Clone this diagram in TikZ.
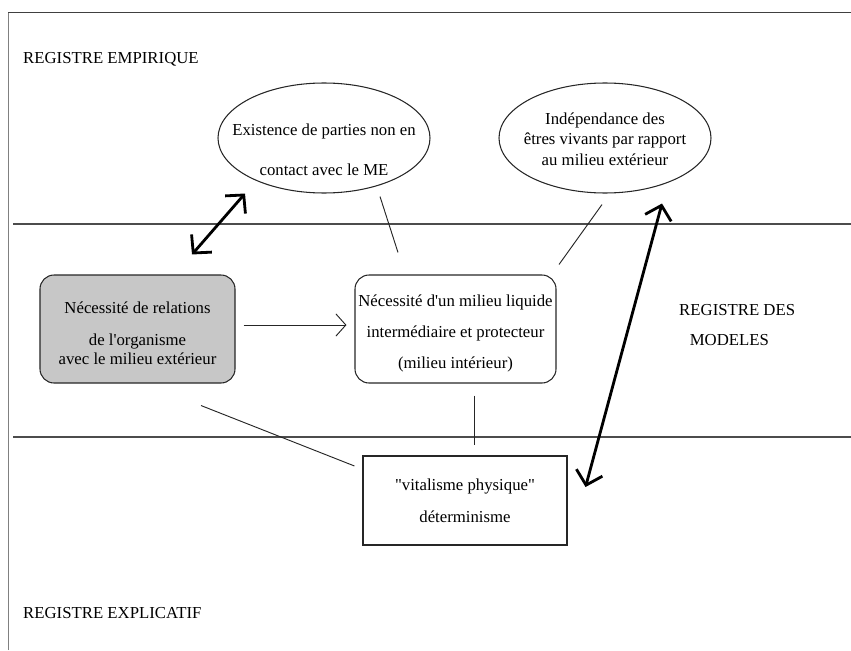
\documentclass[tikz,border=0pt]{standalone}
\usepackage{fontspec}
\setmainfont{Liberation Serif}[Ligatures=TeXOff]
\usetikzlibrary{arrows.meta,shapes.geometric}

\begin{document}
\begin{tikzpicture}[x=0.03cm, y=-0.03cm,
    every node/.style={font=\fontsize{14.3}{17.5}\selectfont, inner sep=0pt},
    bulle/.style={ellipse, draw=black!85, line width=0.9pt, minimum width=6.36cm, minimum height=3.3cm},
    boite/.style={rectangle, draw=black!85, line width=0.9pt, align=center},
    lien/.style={black!85, line width=0.8pt},
    fleche/.style={-{Straight Barb[length=8.5pt,width=19pt]}, black!85, line width=0.8pt},
    grandefleche/.style={{Straight Barb[length=11pt,width=23pt]}-{Straight Barb[length=11pt,width=23pt]}, line width=2.4pt}]

    \useasboundingbox (0,0) rectangle (851,650);

    % Cadre et registres
    \draw[black!50, line width=0.6pt] (8,650) -- (8,12);
    \draw[black!75, line width=0.8pt] (8,12) -- (851,12);
    \draw[black!70, line width=1pt] (13,224) -- (851,224);
    \draw[black!70, line width=1pt] (13,437) -- (851,437);

    \node[anchor=base west] (empirique) at (23,64) {REGISTRE EMPIRIQUE};
    \node[anchor=base west] (explicatif) at (23,618) {REGISTRE EXPLICATIF};
    \node[anchor=north west, align=left] (modeles) at (679,304) {REGISTRE DES\\[8pt]\hspace{9pt}MODELES};

    % Registre empirique
    \node[bulle, label={[align=center, yshift=-10pt]center:Existence de parties non en\\[16.5pt]contact avec le ME}] (existence) at (324,138) {};
    \node[bulle, label={[align=center, yshift=-1pt]center:Ind\'ependance des\\\^etres vivants par rapport\\ au milieu ext\'erieur}] (independance) at (605,138) {};

    % Registre des modeles
    \node[boite, fill=black!22, rounded corners=12pt, minimum width=5.85cm, minimum height=3.24cm] (relations) at (137.5,329)
        {\rule{0pt}{17pt}N\'ecessit\'e de relations\\[9.5pt]de l'organisme\\[-1.5pt]avec le milieu ext\'erieur};
    \node[boite, rounded corners=12pt, minimum width=6.03cm, minimum height=3.24cm] (milieu) at (455.5,329)
        {\rule{0pt}{17pt}N\'ecessit\'e d'un milieu liquide\\[9pt]interm\'ediaire et protecteur\\[9pt](milieu int\'erieur)};

    % Registre explicatif
    \node[boite, minimum width=6.12cm, minimum height=2.67cm] (determinisme) at (465,500.5)
        {"vitalisme physique"\\[9.5pt]d\'eterminisme};

    % Liens
    \draw[fleche] ([shift={(8,-4)}]relations.east) -- ([shift={(-8,-4)}]milieu.west);
    \draw[lien] ([shift={(56,3)}]existence.south) -- ([shift={(-57.5,-22)}]milieu.north);
    \draw[lien] ([shift={(-3,11)}]independance.south) -- ([shift={(2.5,-10)}]milieu.north east);
    \draw[lien] ([shift={(18.5,12)}]milieu.south) -- ([shift={(9,-10)}]determinisme.north);
    \draw[lien] ([shift={(63.5,22)}]relations.south) -- ([shift={(-8,-34.5)}]determinisme.west);

    \draw[grandefleche] ([shift={(54.5,-20)}]relations.north) -- ([shift={(-79,0)}]existence.south);
    \draw[grandefleche] ([shift={(57,10)}]independance.south) -- ([shift={(18,-13.5)}]determinisme.east);

\end{tikzpicture}
\end{document}
